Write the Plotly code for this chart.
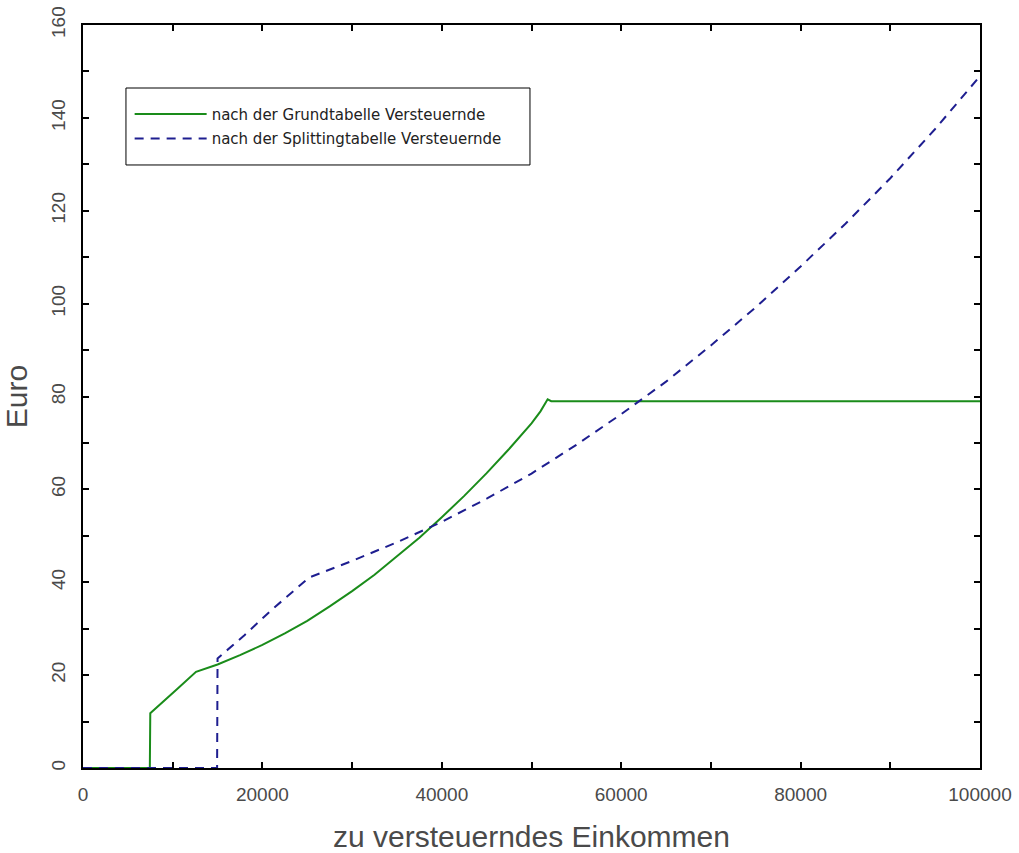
import plotly.graph_objects as go

# Grundtabelle (green)
grund_x = [0, 7450, 7500, 9000, 10500, 12600, 15000, 17500, 20000, 22500, 25000,
           27500, 30000, 32500, 35000, 37500, 40000, 42500, 45000, 47500, 50000,
           51000, 51800, 52200, 100000]
grund_y = [0, 0, 11.8, 14.3, 17.0, 20.7, 22.3, 24.3, 26.5, 29.0, 31.7,
           34.8, 38.1, 41.6, 45.5, 49.6, 54.0, 58.6, 63.5, 68.7, 74.2,
           76.8, 79.4, 79.0, 79.0]

# Splittingtabelle (blue dashed)
split_x = [0, 14950, 15000, 18000, 21000, 25200, 30000, 35000, 40000, 45000,
           50000, 55000, 60000, 65000, 70000, 75000, 80000, 85000, 90000,
           95000, 100000]
split_y = [0, 0, 23.6, 28.6, 34.0, 41.0, 44.6, 48.6, 53.0, 58.0,
           63.4, 69.6, 76.2, 83.2, 91.0, 99.2, 108.0, 117.2, 127.0,
           137.6, 149.0]

x_tickvals = list(range(0, 100001, 10000))
x_ticktext = [str(v) if v % 20000 == 0 else "" for v in x_tickvals]
y_tickvals = list(range(0, 161, 10))
y_ticktext = [str(v) if v % 20 == 0 else "" for v in y_tickvals]

fig = go.Figure()
fig.add_trace(go.Scatter(x=grund_x, y=grund_y, mode="lines",
                         name="nach der Grundtabelle Versteuernde",
                         legendgroup="a",
                         line=dict(color="#1a8c1a", width=2)))
fig.add_trace(go.Scatter(x=split_x, y=split_y, mode="lines",
                         name="nach der Splittingtabelle Versteuernde",
                         legendgroup="b",
                         line=dict(color="#1e1e90", width=2, dash="9px,7px")))

# legend frame
fig.add_shape(type="rect", xref="paper", yref="paper",
              x0=0.0479, x1=0.4983, y0=0.8116, y1=0.9152,
              line=dict(color="black", width=1), fillcolor="white", layer="above")

axis_font = dict(family="Liberation Sans, Arial, sans-serif", size=19, color="#4a4a4a")
title_font = dict(family="Liberation Sans, Arial, sans-serif", size=30, color="#4a4a4a")
fig.update_layout(
    width=1019, height=853,
    margin=dict(l=83, r=39, t=25, b=85, autoexpand=False),
    paper_bgcolor="white", plot_bgcolor="white",
    showlegend=True,
    legend=dict(x=0.052, y=0.902, xanchor="left", yanchor="top",
                bgcolor="rgba(0,0,0,0)", borderwidth=0, tracegroupgap=2,
                font=dict(family="DejaVu Sans, sans-serif", size=15, color="#222222"),
                itemwidth=72),
    xaxis=dict(range=[0, 100000], showgrid=False, zeroline=False, automargin=False,
               showline=True, linecolor="black", linewidth=2, mirror="ticks",
               ticks="inside", ticklen=6, tickwidth=1.5, tickcolor="black",
               tickvals=x_tickvals, ticktext=x_ticktext, tickfont=axis_font,
               ticklabelstandoff=8,
               title=dict(text="zu versteuerndes Einkommen", font=title_font, standoff=24)),
    yaxis=dict(range=[0, 160], showgrid=False, zeroline=False, automargin=False,
               showline=True, linecolor="black", linewidth=2, mirror="ticks",
               ticks="inside", ticklen=6, tickwidth=1.5, tickcolor="black",
               tickvals=y_tickvals, ticktext=y_ticktext, tickfont=axis_font,
               tickangle=-90, ticklabelstandoff=8,
               title=dict(text="Euro", font=title_font, standoff=12)),
)

fig.write_html("out.html")
